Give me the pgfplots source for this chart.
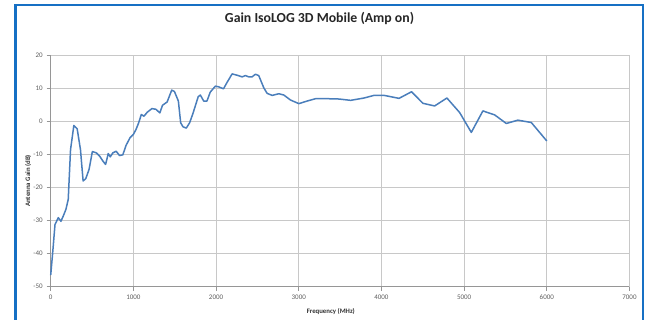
\documentclass[border=0pt]{standalone}
\usepackage{fontspec}
\setmainfont{Carlito}
\usepackage{pgfplots}
\pgfplotsset{compat=1.18}
\definecolor{frameblue}{RGB}{22,112,196}
\definecolor{lineblue}{RGB}{74,126,187}
\definecolor{gridgray}{RGB}{200,200,200}
\definecolor{axisgray}{RGB}{150,150,150}
\definecolor{ticktext}{RGB}{95,95,95}
\begin{document}
\begin{tikzpicture}[x=1pt,y=1pt]
\useasboundingbox (0,0) rectangle (649,320);
\fill[white] (0,0) rectangle (649,320);
\begin{axis}[
  at={(50.7pt,33.3pt)}, anchor=south west,
  scale only axis, width=578.8pt, height=231.3pt,
  xmin=0, xmax=7000, ymin=-50, ymax=20,
  xtick={0,1000,...,7000}, ytick={-50,-40,...,20},
  grid=major, major grid style={gridgray, line width=0.9pt},
  axis lines*=left, axis line style={axisgray, line width=0.8pt},
  tick style={axisgray, line width=0.8pt},
  tick align=outside, major tick length=4pt,
  xtick pos=bottom, ytick pos=left,
  scaled x ticks=false,
  /pgf/number format/assume math mode=true,
  /pgf/number format/set thousands separator={},
  ticklabel style={font=\fontsize{7}{8}\selectfont, text=ticktext},
  xticklabel style={yshift=-0.5pt},
  yticklabel style={xshift=-0.5pt},
  xlabel={Frequency (MHz)},
  ylabel={Antenna Gain (dB)},
  xlabel style={font=\bfseries\fontsize{6.8}{7}\selectfont, text=black!80, at={(axis description cs:0.484,-0.108)}, anchor=center},
  ylabel style={font=\bfseries\fontsize{6.8}{7}\selectfont, text=black!80, at={(axis description cs:-0.039,0.457)}, anchor=center, rotate=0},
  clip=false,
]
\addplot[lineblue, line width=1.5pt, line join=round] coordinates {
(0,-46.5) (24,-39.7) (52,-31.2) (92,-29.1) (124,-30.2) (152,-28.6) (184,-26.6)
(212,-23.6) (240,-8.5) (280,-1.2) (320,-2.2) (360,-8.5) (392,-18) (424,-17.3)
(464,-14.5) (504,-9.1) (552,-9.5) (592,-10.5) (632,-12) (664,-13) (696,-9.7)
(720,-10.7) (752,-9.5) (792,-9) (832,-10.3) (872,-10.1) (912,-7.2) (960,-4.9)
(1000,-3.9) (1032,-2.4) (1064,-0.4) (1096,2.1) (1128,1.6) (1168,2.8) (1224,3.9)
(1272,3.7) (1320,2.6) (1352,4.9) (1408,5.9) (1464,9.5) (1496,9.1) (1544,6.2)
(1572,-0.4) (1600,-1.6) (1640,-2) (1680,-0.4) (1720,2.4) (1784,7.5) (1810,8.0)
(1850,6.2) (1890,6.2) (1930,8.9) (1992,10.7) (2030,10.5) (2090,9.9) (2130,11.7)
(2194,14.4) (2255,14.0) (2315,13.5) (2355,13.9) (2395,13.5) (2435,13.5) (2476,14.3)
(2516,13.9) (2577,10.2) (2618,8.5) (2678,7.9) (2759,8.4) (2820,8.0) (2900,6.5)
(3001,5.4) (3103,6.2) (3204,6.9) (3345,6.9) (3486,6.8) (3628,6.4) (3789,7.1)
(3910,7.9) (4032,7.9) (4213,7.0) (4364,9.0) (4502,5.5) (4643,4.7) (4792,7.1)
(4946,2.7) (5087,-3.3) (5227,3.2) (5369,2.0) (5510,-0.6) (5650,0.4) (5812,-0.3)
(6000,-5.9)
};
\end{axis}
\node[font=\bfseries\fontsize{13.8}{15}\selectfont, text=black!85] at (319.5,302) {Gain IsoLOG 3D Mobile (Amp on)};
\draw[frameblue, line width=2.6pt] (15.3,-10) -- (15.3,315) -- (643,315) -- (643,-10);
\end{tikzpicture}
\end{document}
